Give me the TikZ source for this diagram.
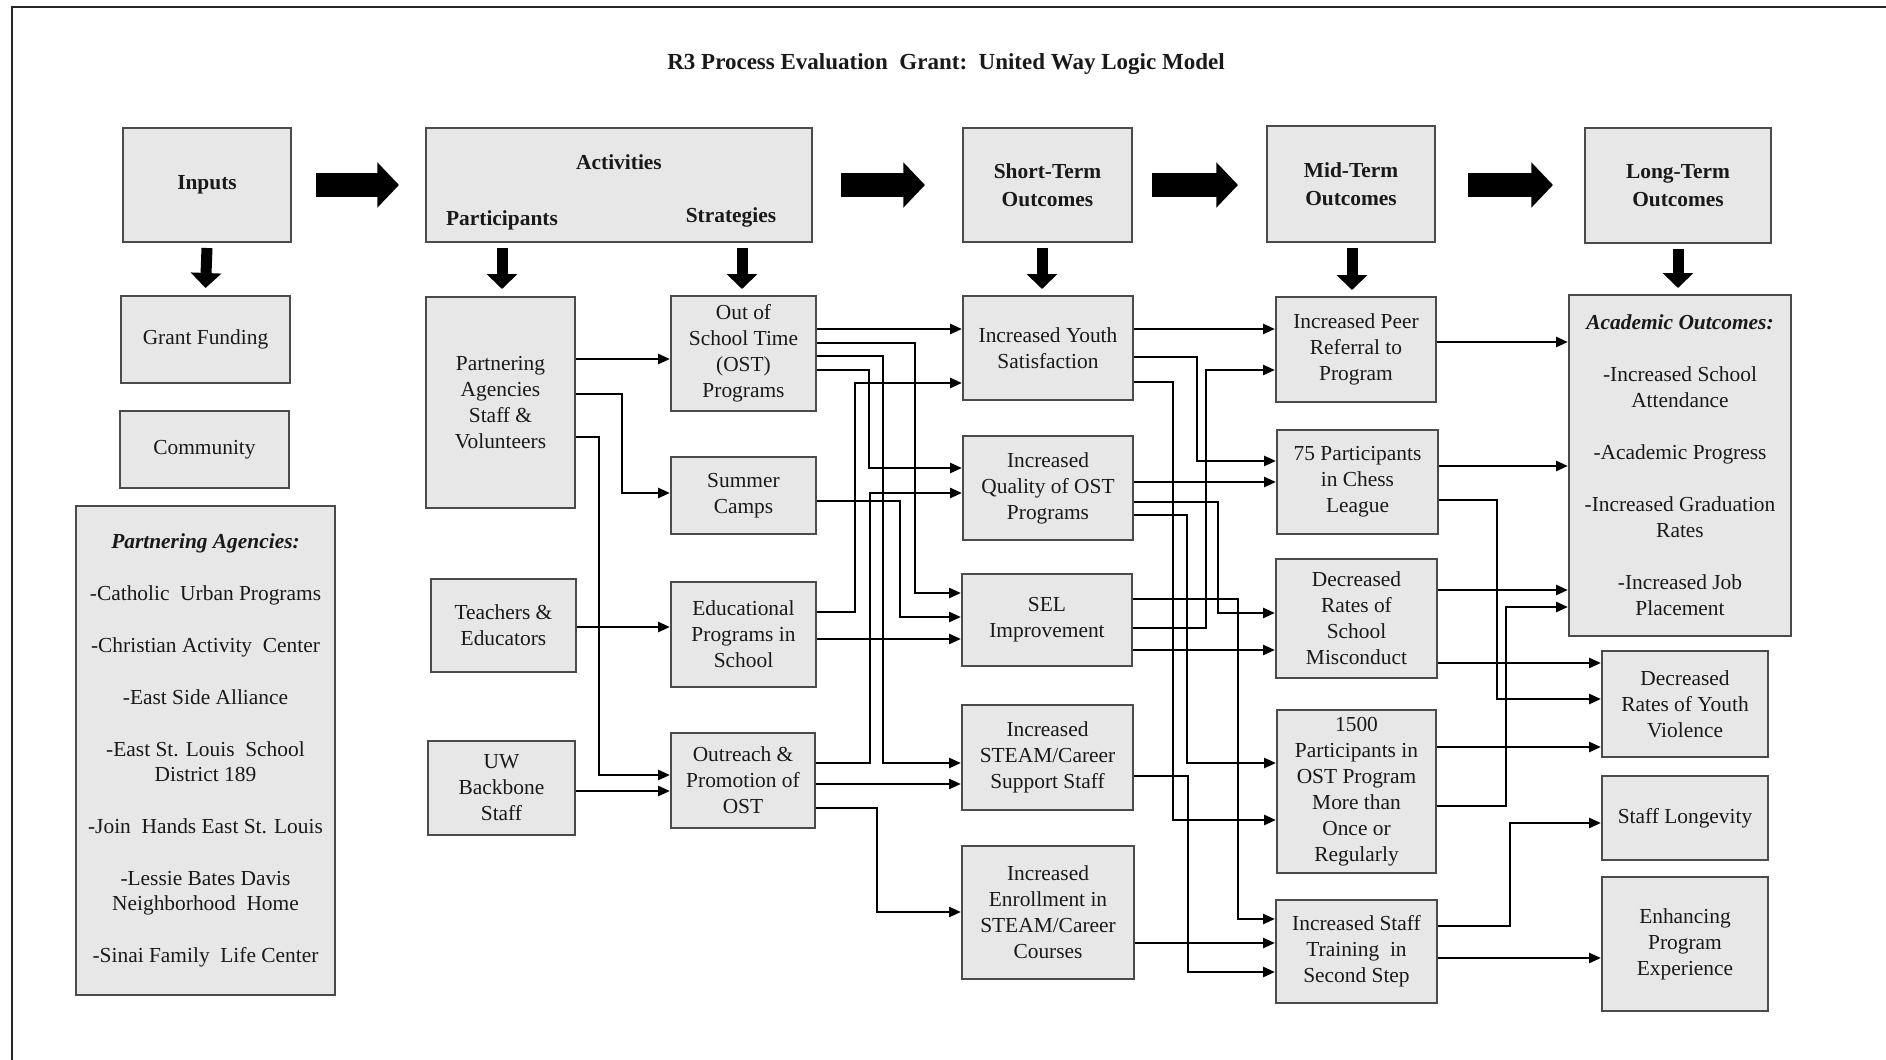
\documentclass[tikz,border=0pt]{standalone}
\usepackage{fontspec}
\setmainfont{Liberation Serif}
\usetikzlibrary{arrows.meta,calc}
\definecolor{boxfill}{RGB}{231,231,231}
\definecolor{boxline}{RGB}{75,75,75}
\begin{document}
\begin{tikzpicture}[x=0.5pt,y=-0.5pt,
  txt/.style={font=\fontsize{10.7pt}{13pt}\selectfont, text=black!90},
  box/.style={txt, draw=boxline, fill=boxfill, line width=1pt, inner sep=0pt, align=center},
  hbox/.style={box, font=\bfseries\fontsize{10.7pt}{14pt}\selectfont},
  htxt/.style={txt, font=\bfseries\fontsize{10.7pt}{14pt}\selectfont, inner sep=0pt},
  conn/.style={line width=1.3pt, -{Triangle[length=6pt,width=5pt]}},
  downarr/.style={line width=5.5pt, -{Triangle[length=7.5pt,width=15pt]}},
  bigarr/.style={line width=11.7pt, -{Triangle[length=10.8pt,width=22pt]}}
]
\useasboundingbox (0,0) rectangle (1886,1060);
\draw[line width=1.3pt, black!85] (12,1070) -- (12,7) -- (1900,7);

\node[htxt, font=\bfseries\fontsize{11.5pt}{14pt}\selectfont] (title) at (946,64) {R3 Process Evaluation\ \ Grant:\ \ United Way Logic Model};

% header boxes
\node[hbox, minimum width=84pt, minimum height=57pt] (inputs) at (207,185) {Inputs};
\node[hbox, minimum width=193pt, minimum height=57pt] (activities) at (619,185) {};
\node[htxt] (acttitle) at (619,162) {Activities};
\node[htxt] (parttitle) at (502,220) {Participants};
\node[htxt] (strattitle) at (731,217) {Strategies};
\node[hbox, minimum width=84.5pt, minimum height=57pt] (short) at (1047.5,185) {Short-Term\\Outcomes};
\node[hbox, minimum width=84pt, minimum height=58pt] (mid) at (1351,184) {Mid-Term\\Outcomes};
\node[hbox, minimum width=93pt, minimum height=57.5pt] (long) at (1678,185.5) {Long-Term\\Outcomes};

% inputs column
\node[box, minimum width=84.5pt, minimum height=43.5pt] (grant) at (205.5,339.5) {Grant Funding};
\node[box, minimum width=84.5pt, minimum height=38.5pt] (community) at (204.5,449.5) {Community};
\node[box, minimum width=129.5pt, minimum height=244.5pt, font=\fontsize{10.7pt}{12.5pt}\selectfont] (agencies) at (205.5,750.5)
 {\textbf{\textit{Partnering Agencies:}}\\[13.5pt]
  -Catholic\ \ Urban Programs\\[13.5pt]
  -Christian Activity\ \ Center\\[13.5pt]
  -East Side Alliance\\[13.5pt]
  -East St. Louis\ \ School\\District 189\\[13.5pt]
  -Join\ \ Hands East St. Louis\\[13.5pt]
  -Lessie Bates Davis\\Neighborhood\ \ Home\\[13.5pt]
  -Sinai Family\ \ Life Center};

% participants
\node[box, minimum width=74.5pt, minimum height=105.5pt] (pasv) at (500.5,402.5) {Partnering\\Agencies\\Staff \&\\Volunteers};
\node[box, minimum width=72.5pt, minimum height=46.5pt] (teach) at (503.5,625.5) {Teachers \&\\Educators};
\node[box, minimum width=73.5pt, minimum height=47pt] (uw) at (501.5,788) {UW\\Backbone\\Staff};

% strategies
\node[box, minimum width=72.5pt, minimum height=57.5pt] (ost) at (743.5,353.5) {Out of\\School Time\\(OST)\\Programs};
\node[box, minimum width=72.5pt, minimum height=38.5pt] (summer) at (743.5,495.5) {Summer\\Camps};
\node[box, minimum width=72.5pt, minimum height=52.5pt] (edu) at (743.5,634.5) {Educational\\Programs in\\School};
\node[box, minimum width=72pt, minimum height=47.5pt] (outreach) at (743,780.5) {Outreach \&\\Promotion of\\OST};

% short-term
\node[box, minimum width=85pt, minimum height=52pt] (youth) at (1048,348) {Increased Youth\\Satisfaction};
\node[box, minimum width=85pt, minimum height=52pt] (quality) at (1048,488) {Increased\\Quality of OST\\Programs};
\node[box, minimum width=85pt, minimum height=46pt] (sel) at (1047,620) {SEL\\Improvement};
\node[box, minimum width=85.5pt, minimum height=52.5pt] (steam) at (1047.5,757.5) {Increased\\STEAM/Career\\Support Staff};
\node[box, minimum width=86pt, minimum height=66.5pt] (enroll) at (1048,912.5) {Increased\\Enrollment in\\STEAM/Career\\Courses};

% mid-term
\node[box, minimum width=80pt, minimum height=52.5pt] (peer) at (1356,349.5) {Increased Peer\\Referral to\\Program};
\node[box, minimum width=80.5pt, minimum height=52pt] (chess) at (1357.5,482) {75 Participants\\in Chess\\League};
\node[box, minimum width=80.5pt, minimum height=59.5pt] (misc) at (1356.5,618.5) {Decreased\\Rates of\\School\\Misconduct};
\node[box, minimum width=79.5pt, minimum height=81.5pt] (p1500) at (1356.5,791.5) {1500\\Participants in\\OST Program\\More than\\Once or\\Regularly};
\node[box, minimum width=80.5pt, minimum height=51.5pt] (train) at (1356.5,951.5) {Increased Staff\\Training\ \ in\\Second Step};

% long-term
\node[box, minimum width=111pt, minimum height=170.5pt] (acad) at (1680,465.5)
 {\textbf{\textit{Academic Outcomes:}}\\[13pt]
  -Increased School\\Attendance\\[13pt]
  -Academic Progress\\[13pt]
  -Increased Graduation\\Rates\\[13pt]
  -Increased Job\\Placement};
\node[box, minimum width=83pt, minimum height=53pt] (viol) at (1685,704) {Decreased\\Rates of Youth\\Violence};
\node[box, minimum width=83pt, minimum height=42pt] (longev) at (1685,818) {Staff Longevity};
\node[box, minimum width=83pt, minimum height=67pt] (enh) at (1685,944) {Enhancing\\Program\\Experience};

% big arrows
\draw[bigarr] (inputs.east |- 0,185) ++(24,0) -- ($(activities.west |- 0,185)+(-26,0)$);
\draw[bigarr] (activities.east |- 0,185) ++(28,0) -- ($(short.west |- 0,185)+(-37,0)$);
\draw[bigarr] (short.east |- 0,185) ++(19,0) -- ($(mid.west |- 0,185)+(-28,0)$);
\draw[bigarr] (mid.east |- 0,185) ++(32,0) -- ($(long.west |- 0,185)+(-31,0)$);

% down arrows
\draw[downarr] ($(inputs.south)+(0,5)$) -- ($(grant.north)+(0,-7)$);
\draw[downarr] ($(activities.south -| 502,0)+(0,5)$) -- ($(pasv.north -| 502,0)+(0,-7)$);
\draw[downarr] ($(activities.south -| 742,0)+(0,5)$) -- ($(ost.north -| 742,0)+(0,-6)$);
\draw[downarr] ($(short.south -| 1042,0)+(0,5)$) -- ($(youth.north -| 1042,0)+(0,-6)$);
\draw[downarr] ($(mid.south -| 1352,0)+(0,5)$) -- ($(peer.north -| 1352,0)+(0,-6)$);
\draw[downarr] ($(long.south -| 1678,0)+(0,5)$) -- ($(acad.north -| 1678,0)+(0,-6)$);

% participants -> strategies
\draw[conn] (pasv.east |- 0,359) -- (ost.west |- 0,359);
\draw[conn] (pasv.east |- 0,394) -- (622,394) |- (summer.west |- 0,493);
\draw[conn] (pasv.east |- 0,437) -- (599,437) |- (outreach.west |- 0,775);
\draw[conn] (teach.east |- 0,627) -- (edu.west |- 0,627);
\draw[conn] (uw.east |- 0,791) -- (outreach.west |- 0,791);

% strategies -> short-term
\draw[conn] (ost.east |- 0,329) -- (youth.west |- 0,329);
\draw[conn] (ost.east |- 0,343) -- (915,343) |- (sel.west |- 0,593);
\draw[conn] (ost.east |- 0,356) -- (883,356) |- (steam.west |- 0,763);
\draw[conn] (ost.east |- 0,370) -- (869,370) |- (quality.west |- 0,468);
\draw[conn] (summer.east |- 0,501) -- (900,501) |- (sel.west |- 0,617);
\draw[conn] (edu.east |- 0,612) -- (855,612) |- (youth.west |- 0,383);
\draw[conn] (edu.east |- 0,639) -- (sel.west |- 0,639);
\draw[conn] (outreach.east |- 0,763) -- (870,763) |- (quality.west |- 0,493);
\draw[conn] (outreach.east |- 0,784) -- (steam.west |- 0,784);
\draw[conn] (outreach.east |- 0,808) -- (877,808) |- (enroll.west |- 0,912);

% short-term -> mid-term
\draw[conn] (youth.east |- 0,329) -- (peer.west |- 0,329);
\draw[conn] (youth.east |- 0,357) -- (1197,357) |- (chess.west |- 0,461);
\draw[conn] (youth.east |- 0,382) -- (1173,382) |- (p1500.west |- 0,820);
\draw[conn] (quality.east |- 0,482) -- (chess.west |- 0,482);
\draw[conn] (quality.east |- 0,502) -- (1218,502) |- (misc.west |- 0,613);
\draw[conn] (quality.east |- 0,515) -- (1187,515) |- (p1500.west |- 0,763);
\draw[conn] (sel.east |- 0,599) -- (1238,599) |- (train.west |- 0,919);
\draw[conn] (sel.east |- 0,628) -- (1206,628) |- (peer.west |- 0,370);
\draw[conn] (sel.east |- 0,650) -- (misc.west |- 0,650);
\draw[conn] (steam.east |- 0,776) -- (1188,776) |- (train.west |- 0,972);
\draw[conn] (enroll.east |- 0,943) -- (train.west |- 0,943);

% mid-term -> long-term
\draw[conn] (peer.east |- 0,342) -- (acad.west |- 0,342);
\draw[conn] (chess.east |- 0,466) -- (acad.west |- 0,466);
\draw[conn] (chess.east |- 0,500) -- (1497,500) |- (viol.west |- 0,699);
\draw[conn] (misc.east |- 0,590) -- (acad.west |- 0,590);
\draw[conn] (misc.east |- 0,663) -- (viol.west |- 0,663);
\draw[conn] (p1500.east |- 0,747) -- (viol.west |- 0,747);
\draw[conn] (p1500.east |- 0,806) -- (1506,806) |- (acad.west |- 0,607);
\draw[conn] (train.east |- 0,926) -- (1510,926) |- (longev.west |- 0,823);
\draw[conn] (train.east |- 0,958) -- (enh.west |- 0,958);
\end{tikzpicture}
\end{document}
